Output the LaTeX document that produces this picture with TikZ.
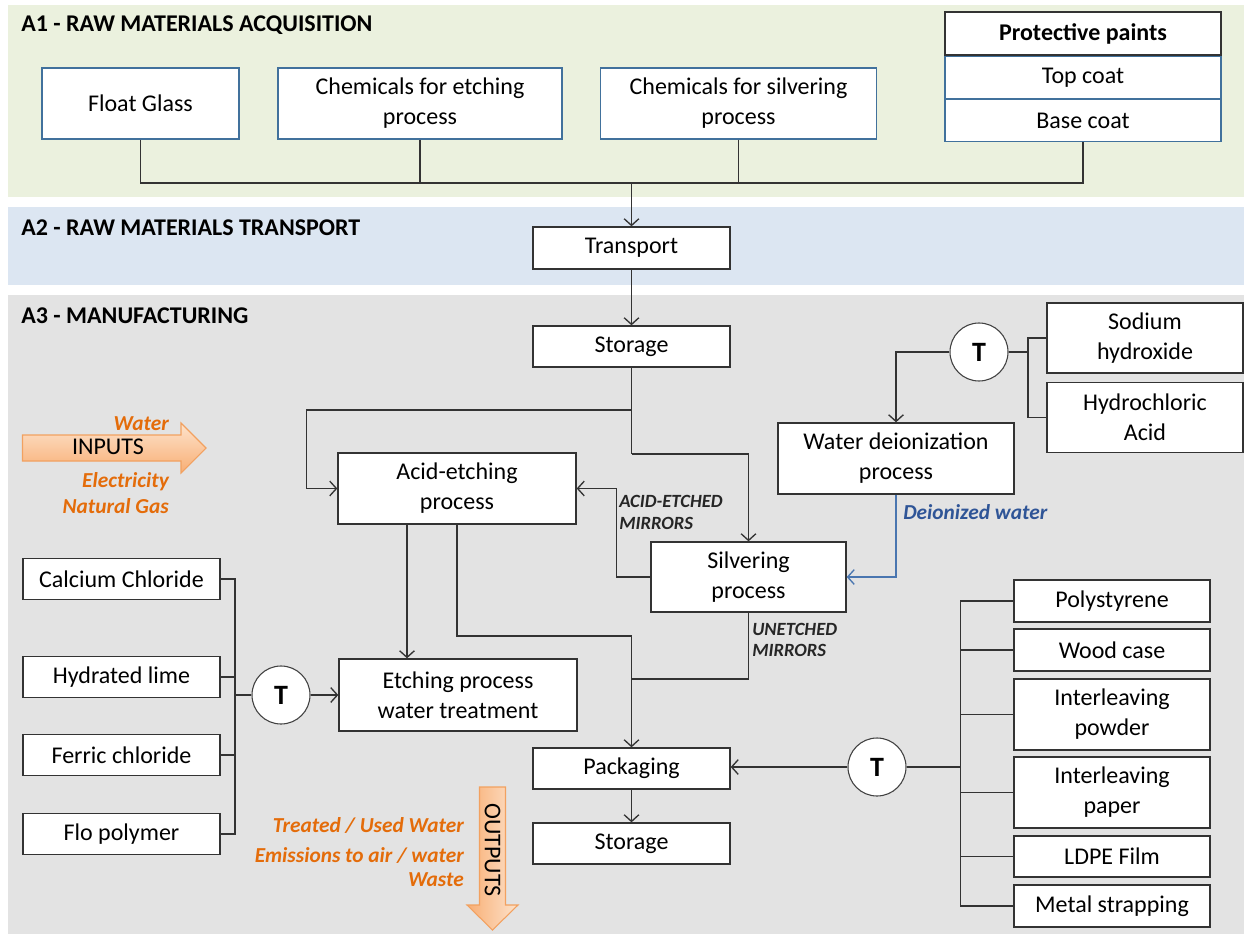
\documentclass[tikz,border=0pt]{standalone}
\usepackage{fontspec}
\setmainfont{Carlito}
\usetikzlibrary{arrows.meta,positioning,calc}

\definecolor{bandA}{HTML}{EBF1DE}
\definecolor{bandB}{HTML}{DCE6F2}
\definecolor{bandC}{HTML}{E3E3E3}
\definecolor{boxblue}{HTML}{41719C}
\definecolor{lineblue}{HTML}{4A76B0}
\definecolor{textblue}{HTML}{2F5597}
\definecolor{flowtxt}{HTML}{E46C0A}
\definecolor{arrlight}{HTML}{FDE3CC}
\definecolor{arrdark}{HTML}{F8AE74}
\definecolor{arrline}{HTML}{F2A160}

\tikzset{
	box/.style={draw=black!80, fill=white, line width=1pt, inner sep=0pt, align=center,
		font=\fontsize{18}{22.5}\selectfont},
	bluebox/.style={box, draw=boxblue},
	sz/.style 2 args={minimum width=#1*0.75pt, minimum height=#2*0.75pt},
	tee/.style={circle, draw=black!75, fill=white, line width=0.8pt, minimum size=58*0.75pt,
		inner sep=0pt, font=\fontsize{21}{24}\selectfont\bfseries},
	link/.style={draw=black!80, line width=1pt},
	flowto/.style={link, -{Straight Barb[length=5pt, width=11pt]}},
	title/.style={anchor=west, inner sep=0pt, font=\fontsize{18}{22}\selectfont\bfseries},
	note/.style={anchor=east, inner sep=0pt, text=flowtxt, font=\fontsize{16}{20}\selectfont\bfseries\itshape},
	tag/.style={anchor=west, inner sep=0pt, align=left, text=black!85,
		font=\fontsize{14}{16}\selectfont\bfseries\itshape}
}

\begin{document}
\begin{tikzpicture}[x=0.75pt, y=-0.75pt]
	\useasboundingbox (0,0) rectangle (1244,934);

	% stage bands
	\fill[bandA] (8,5) rectangle (1244,197);
	\fill[bandB] (8,207) rectangle (1244,285);
	\fill[bandC] (8,295) rectangle (1244,934);
	\node[title] (titleA) at (21,25) {A1 - RAW MATERIALS ACQUISITION};
	\node[title] (titleB) at (21,228) {A2 - RAW MATERIALS TRANSPORT};
	\node[title] (titleC) at (21,316) {A3 - MANUFACTURING};

	% A1 raw materials
	\node[bluebox, sz={197}{71}] (glass) at (140.5,103.5) {Float Glass};
	\node[bluebox, sz={284}{71}] (etchchem) at (420,103.5) {Chemicals for etching\\process};
	\node[bluebox, sz={276}{71}] (silvchem) at (738.5,103.5) {Chemicals for silvering\\process};
	\node[box, sz={276}{43}, font=\fontsize{18}{22.5}\selectfont\bfseries] (paints) at (1083,33.5) {Protective paints};
	\node[bluebox, sz={276}{42}, below=0pt of paints] (topcoat) {Top coat};
	\node[bluebox, sz={276}{42}, below=0pt of topcoat] (basecoat) {Base coat};

	% A2 transport
	\node[box, sz={197}{42}] (transport) at (631.5,248) {Transport};
	\coordinate (busA) at (631.5,183);
	\draw[link] (glass.south) |- (basecoat.south |- busA) -- (basecoat.south);
	\draw[link] (etchchem.south) -- (etchchem.south |- busA);
	\draw[link] (silvchem.south) -- (silvchem.south |- busA);
	\draw[flowto] (busA) -- (transport.north);

	% A3 manufacturing
	\node[box, sz={197}{41}] (storage) at (631.5,346.5) {Storage};
	\node[box, sz={238}{71}] (acid) at (457,488.5) {Acid-etching\\process};
	\node[box, sz={195}{70}] (silver) at (748.5,577) {Silvering\\process};
	\node[box, sz={236}{71}] (deion) at (896,458.5) {Water deionization\\process};
	\node[box, sz={196}{70}] (soda) at (1145,338) {Sodium\\hydroxide};
	\node[box, sz={196}{70}] (hcl) at (1145,417.5) {Hydrochloric\\Acid};
	\node[tee] (teeW) at (979,352) {T};
	\node[box, sz={238}{72}] (treat) at (458,695) {Etching process\\water treatment};
	\node[box, sz={197}{41}] (pack) at (631.5,768.5) {Packaging};
	\node[box, sz={197}{41}] (store2) at (631.5,843.5) {Storage};

	\node[box, sz={197}{41}] (calcium) at (121.5,579) {Calcium Chloride};
	\node[box, sz={197}{41}] (lime) at (121.5,677) {Hydrated lime};
	\node[box, sz={197}{41}] (ferric) at (121.5,755) {Ferric chloride};
	\node[box, sz={197}{41}] (flo) at (121.5,834) {Flo polymer};
	\node[tee] (teeL) at (281,695) {T};

	\node[box, sz={196}{42}] (poly) at (1112,601) {Polystyrene};
	\node[box, sz={196}{42}] (wood) at (1112,650) {Wood case};
	\node[box, sz={196}{71}] (powder) at (1112,714.5) {Interleaving\\powder};
	\node[box, sz={196}{71}] (paper) at (1112,792.5) {Interleaving\\paper};
	\node[box, sz={196}{41}] (ldpe) at (1112,856.5) {LDPE Film};
	\node[box, sz={196}{42}] (metal) at (1112,906) {Metal strapping};
	\node[tee] (teeR) at (877,767) {T};

	% main flow
	\draw[flowto] (transport.south) -- (storage.north);
	\coordinate (forkA) at (631.5,410);
	\coordinate (forkB) at (631.5,454);
	\draw[link] (storage.south) -- (forkB);
	\draw[flowto] (forkA) -| ([xshift=-23.25pt]acid.west) -- (acid.west);
	\draw[flowto] (forkB) -| (silver.north);
	\draw[flowto] (silver.west) -- ++(-34,0) |- (acid.east);
	\node[tag] (acidtag) at (619,512.5) {ACID-ETCHED\\MIRRORS};
	\draw[flowto] ([xshift=-37.5pt]acid.south) -- ([xshift=-37.5pt]acid.south |- treat.north);
	\coordinate (joinP) at (631.5,636);
	\coordinate (joinU) at (631.5,679);
	\draw[link] (acid.south) |- (joinP);
	\draw[link] (silver.south) |- (joinU);
	\draw[flowto] (joinP) -- (pack.north);
	\node[tag] (unetchtag) at (752,640) {UNETCHED\\MIRRORS};
	\draw[flowto] (pack.south) -- (store2.north);

	% water deionization
	\coordinate (busW) at (1028,352);
	\draw[link] (soda.west) -| (busW) |- (hcl.west);
	\draw[link] (teeW.east) -- (busW);
	\draw[flowto] (teeW.west) -| (deion.north);
	\draw[flowto, draw=lineblue] (deion.south) |- (silver.east);
	\node[anchor=west, inner sep=0pt, text=textblue, font=\fontsize{16}{20}\selectfont\bfseries\itshape] (deiontag) at (903,512) {Deionized water};

	% water treatment chemicals
	\coordinate (busL) at (235,695);
	\draw[link] (calcium.east) -| (flo.east -| busL) -- (flo.east);
	\draw[link] (lime.east) -- (lime.east -| busL);
	\draw[link] (ferric.east) -- (ferric.east -| busL);
	\draw[link] (busL) -- (teeL.west);
	\draw[flowto] (teeL.east) -- (treat.west);

	% packaging materials
	\coordinate (busR) at (960.5,767);
	\draw[link] (poly.west) -| (metal.west -| busR) -- (metal.west);
	\draw[link] (wood.west) -- (wood.west -| busR);
	\draw[link] (powder.west) -- (powder.west -| busR);
	\draw[link] (paper.west) -- (paper.west -| busR);
	\draw[link] (ldpe.west) -- (ldpe.west -| busR);
	\draw[link] (teeR.east) -- (busR);
	\draw[flowto] (teeR.west) -- (teeR.west -| pack.east);

	% inputs and outputs
	\draw[draw=arrline, line width=0.8pt, top color=arrlight, bottom color=arrdark]
		(22.5,435) -- (181,435) -- (181,423) -- (206,448) -- (181,473) -- (181,461) -- (22.5,461) -- cycle;
	\node[font=\fontsize{18}{22}\selectfont] (inlbl) at (108,447) {INPUTS};
	\node[note] (nwater) at (169,424) {Water};
	\node[note] (nelec) at (169,482) {Electricity};
	\node[note] (ngas) at (169,506) {Natural Gas};

	\draw[draw=arrline, line width=0.8pt, left color=arrdark, right color=arrlight]
		(479.5,787) -- (505.5,787) -- (505.5,905) -- (518,905) -- (492.5,930) -- (467,905) -- (479.5,905) -- cycle;
	\node[rotate=-90, font=\fontsize{18}{22}\selectfont] (outlbl) at (492.5,850) {OUTPUTS};
	\node[note] (nused) at (464,825) {Treated / Used Water};
	\node[note] (nemis) at (464,855) {Emissions to air / water};
	\node[note] (nwaste) at (464,880) {Waste};
\end{tikzpicture}
\end{document}
